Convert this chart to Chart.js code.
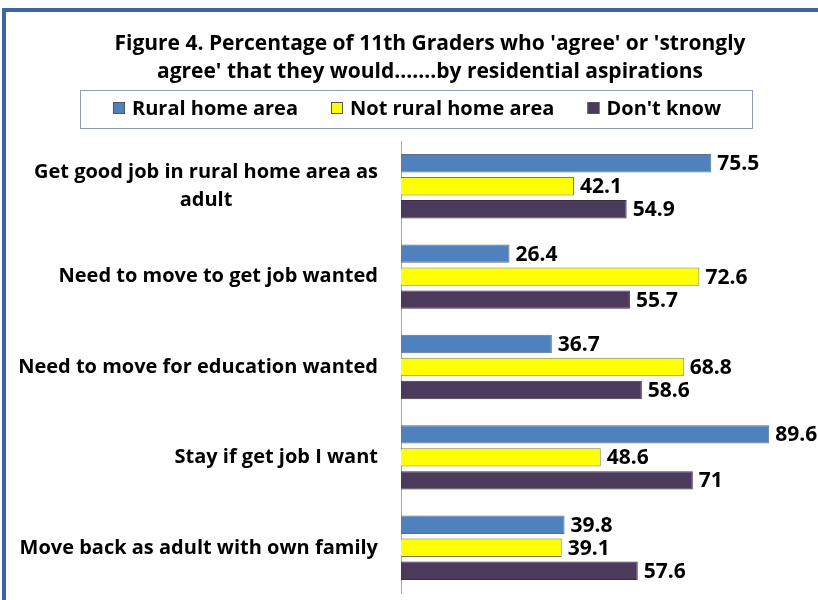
<!DOCTYPE html>
<html><head><meta charset="utf-8">
<script src="https://cdn.jsdelivr.net/npm/chart.js@4"></script>
<style>
html,body{margin:0;padding:0;background:#fff;overflow:hidden;width:818px;height:600px;}
#frame{position:absolute;left:2px;top:8px;width:900px;height:700px;border:4px solid #3c67a3;box-sizing:border-box;}
#wrap{position:absolute;left:0;top:0;width:818px;height:600px;}
</style></head><body>
<div id="frame"></div>
<div id="wrap"><canvas id="c" width="818" height="600"></canvas></div>
<script>
const categories = [["Get good job in rural home area as","adult"],"Need to move to get job wanted","Need to move for education wanted","Stay if get job I want","Move back as adult with own family"];
const seriesNames = ["Rural home area","Not rural home area","Don't know"];
const ruralHome = [75.5,26.4,36.7,89.6,39.8];
const notRuralHome = [42.1,72.6,68.8,48.6,39.1];
const dontKnow = [54.9,55.7,58.6,71,57.6];
const seriesColors = ['#4f81bd','#ffff00','#4b3a5c'];
const titleLines = ["Figure 4. Percentage of 11th Graders who 'agree' or 'strongly","agree' that they would.......by residential aspirations"];

const FONT = "'Open Sans', sans-serif";

const customPlugin = {
  id: 'custom',
  afterDraw(chart) {
    const ctx = chart.ctx;
    ctx.save();
    const y = chart.scales.y;
    ctx.font = "bold 20px " + FONT;
    ctx.fillStyle = '#000';
    ctx.textBaseline = 'middle';
    ctx.textAlign = 'center';
    const right = 378;
    categories.forEach((lab, i) => {
      const lines = Array.isArray(lab) ? lab : [lab];
      const maxW = Math.max(...lines.map(l => ctx.measureText(l).width));
      const cx = right - maxW / 2;
      const cy = y.getPixelForValue(i);
      const lh = 28;
      lines.forEach((l, k) => {
        ctx.fillText(l, cx, cy + (k - (lines.length - 1) / 2) * lh);
      });
    });
    ctx.font = "bold 21px " + FONT;
    ctx.textAlign = 'left';
    chart.data.datasets.forEach((ds, di) => {
      const meta = chart.getDatasetMeta(di);
      meta.data.forEach((el, i) => {
        ctx.fillText(String(ds.data[i]), el.x + 6, el.y + 1);
      });
    });
    const lx0 = 80, lx1 = 752, ly0 = 90, ly1 = 128;
    ctx.strokeStyle = '#8d9db5';
    ctx.lineWidth = 1;
    ctx.strokeRect(lx0 + 0.5, ly0 + 0.5, lx1 - lx0, ly1 - ly0);
    ctx.font = "bold 20px " + FONT;
    const box = 12, gapT = 7, gapI = 33;
    const widths = seriesNames.map(n => box + gapT + ctx.measureText(n).width);
    const total = widths.reduce((a, b) => a + b, 0) + gapI * (seriesNames.length - 1);
    let x = 417 - total / 2;
    const cyL = 108;
    seriesNames.forEach((n, i) => {
      ctx.fillStyle = seriesColors[i];
      ctx.fillRect(x, cyL - 6, box, box);
      ctx.strokeStyle = '#555';
      ctx.strokeRect(x + 0.5, cyL - 6 + 0.5, box - 1, box - 1);
      ctx.fillStyle = '#000';
      ctx.textAlign = 'left';
      ctx.fillText(n, x + box + gapT, cyL + 1);
      x += widths[i] + gapI;
    });
    ctx.restore();
  }
};

new Chart(document.getElementById('c'), {
  type: 'bar',
  data: {
    labels: categories,
    datasets: [
      {label: seriesNames[0], data: ruralHome, backgroundColor: seriesColors[0], borderColor: '#5a6f8a', borderWidth: 1},
      {label: seriesNames[1], data: notRuralHome, backgroundColor: seriesColors[1], borderColor: '#7a7a5a', borderWidth: 1},
      {label: seriesNames[2], data: dontKnow, backgroundColor: seriesColors[2], borderColor: '#3a3040', borderWidth: 1}
    ]
  },
  options: {
    indexAxis: 'y',
    responsive: false,
    animation: false,
    devicePixelRatio: 1,
    layout: {padding: {left: 48, right: 6, top: 0, bottom: 7}},
    categoryPercentage: 0.763,
    barPercentage: 0.8,
    plugins: {
      legend: {display: false},
      tooltip: {enabled: false},
      title: {
        display: true,
        text: titleLines,
        color: '#000',
        font: {family: FONT, size: 21, weight: 'bold', lineHeight: 28/21},
        padding: {top: 30, bottom: 55}
      }
    },
    scales: {
      x: {display: false, min: 0, max: 100},
      y: {
        grid: {display: false},
        border: {display: true, color: '#a6a6a6', width: 1},
        ticks: {display: false},
        afterFit(scale) { scale.width = 401 - 48; }
      }
    }
  },
  plugins: [customPlugin]
});
</script>
</body></html>
